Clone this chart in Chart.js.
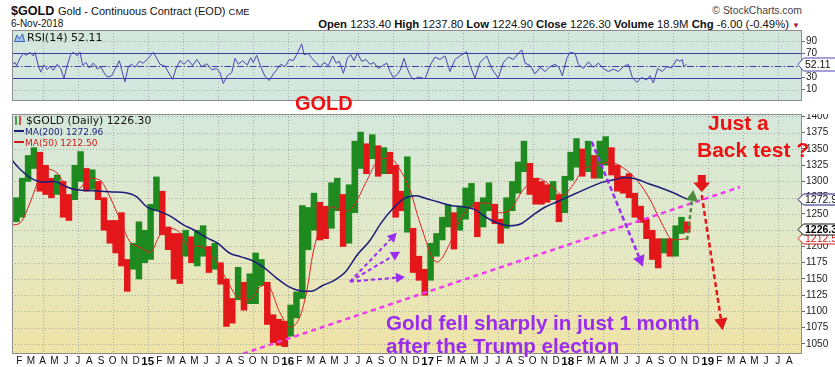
<!DOCTYPE html>
<html>
<head>
<meta charset="utf-8">
<title>$GOLD</title>
<script src="https://cdn.jsdelivr.net/npm/chart.js@4.4.1/dist/chart.umd.min.js"></script>
<style>
  html, body { margin: 0; padding: 0; background: #fff; }
  body { position: relative; width: 835px; height: 367px; overflow: hidden; font-family: 'Liberation Sans', Arial, sans-serif; color: #111; }
  canvas { position: absolute; left: 0; }
  #rsi { top: 30px; }
  #price { top: 114px; }
  .t { position: absolute; white-space: nowrap; line-height: 1; }
  .dv { font-family: 'DejaVu Sans', Verdana, sans-serif; }
  .note { font-weight: bold; }
</style>
</head>
<body>
<canvas id="rsi" width="835" height="84"></canvas>
<canvas id="price" width="835" height="253"></canvas>

<!-- header -->
<div class="t" style="left:11px;top:4.8px;font-size:12.6px;font-weight:bold">$GOLD</div>
<div class="t" style="left:58px;top:5.7px;font-size:11px">Gold - Continuous Contract (EOD) <span style="font-size:9.5px">CME</span></div>
<div class="t" style="left:11px;top:18.8px;font-size:10px">6-Nov-2018</div>
<div class="t" style="right:33px;top:6.3px;font-size:10.4px;color:#444">&copy; StockCharts.com</div>
<div class="t" style="right:35px;top:18.5px;font-size:11.3px"><b>Open</b> 1233.40 <b>High</b> 1237.80 <b>Low</b> 1224.90 <b>Close</b> 1226.30 <b>Volume</b> 18.9M <b>Chg</b> -6.00 (-0.49%) <span style="color:#a0203a;font-size:8px">&#9660;</span></div>

<!-- legends -->
<div class="t dv" style="left:14px;top:32.4px;font-size:11px"><svg width="11" height="9" style="vertical-align:-1px;margin-right:2px"><path d="M0.5 8.5 L3 2 L5.5 6 L8.5 0.8 L10.5 8.5 Z" fill="#9fc2ee" stroke="#3d63b8" stroke-width="1"/></svg>RSI(14) 52.11</div>
<div class="t dv" style="left:14px;top:115.9px;font-size:10.8px"><svg width="10" height="9" style="vertical-align:-1px;margin-right:2px"><path d="M2 0 V9 M1 2 H2 M2 6 H3" stroke="#1f8a1f" stroke-width="1.4"/><path d="M6 0 V9 M5 7 H6 M6 3 H7" stroke="#d81818" stroke-width="1.4"/></svg>$GOLD (Daily) 1226.30</div>
<div class="t dv" style="left:14px;top:128.4px;font-size:9px;color:#1c1c7a"><span style="display:inline-block;width:10px;height:2px;background:#1c1c7a;vertical-align:3px;margin-right:1px"></span>MA(200) 1272.96</div>
<div class="t dv" style="left:14px;top:139px;font-size:9px;color:#d01818"><span style="display:inline-block;width:10px;height:2px;background:#d01818;vertical-align:3px;margin-right:1px"></span>MA(50) 1212.50</div>

<!-- annotations -->
<div class="t note" style="left:295px;top:93px;font-size:20px;color:#ee1111">GOLD</div>
<div class="t note" style="left:708px;top:112px;font-size:21px;color:#ee1111">Just a</div>
<div class="t note" style="left:697px;top:139px;font-size:21px;color:#ee1111">Back test ?</div>
<div class="t note" style="left:386px;top:312.6px;font-size:20.6px;color:#9a2cf0">Gold fell sharply in just 1 month</div>
<div class="t note" style="left:386px;top:335.6px;font-size:20.6px;color:#9a2cf0">after the Trump election</div>

<script>
// x values are months since 1-Jan-2014
const X_MIN = 0.37;   // ~12-Jan-2014
const X_MAX = 68.08;  // end of Aug 2019
const firstYear = 2014;
const monthLetters = ['J', 'F', 'M', 'A', 'M', 'J', 'J', 'A', 'S', 'O', 'N', 'D'];
const xTickMonths = [1, 2, 3, 4, 5, 6, 7, 8, 9, 10, 11, 12, 13, 14, 15, 16, 17, 18, 19, 20, 21, 22, 23, 24,
  25, 26, 27, 28, 29, 30, 31, 32, 33, 34, 35, 36, 37, 38, 39, 40, 41, 42, 43, 44, 45, 46, 47, 48,
  49, 50, 51, 52, 53, 54, 55, 56, 57, 58, 59, 60, 61, 62, 63, 64, 65, 66, 67];

// half-month periods, first one = 16-31 Jan 2014
const firstPeriod = 0.5;
const priceHigh = [
  1275, 1305, 1340, 1352, 1345, 1325, 1305, 1310, 1300, 1280, 1325, 1346, 1320, 1318, 1300, 1275, 1240, 1240, 1252, 1180, 1205, 1238, 1225,
  1265, 1307, 1285, 1230, 1220, 1220, 1225, 1215, 1225, 1232, 1200, 1205, 1175, 1150, 1120, 1168, 1145, 1158, 1190, 1180, 1145, 1095, 1088, 1085,
  1110, 1130, 1263, 1260, 1282, 1268, 1262, 1298, 1305, 1280, 1295, 1362, 1376, 1358, 1372, 1355, 1352, 1345, 1325, 1285, 1338, 1228, 1185, 1165,
  1205, 1220, 1245, 1264, 1252, 1262, 1290, 1297, 1268, 1275, 1298, 1265, 1242, 1275, 1300, 1330, 1362, 1328, 1305, 1300, 1295, 1300, 1280, 1308,
  1345, 1366, 1350, 1362, 1340, 1362, 1369, 1352, 1325, 1308, 1312, 1282, 1262, 1242, 1225, 1212, 1212, 1212, 1232, 1245, 1238
];
const priceLow = [
  1238, 1245, 1300, 1320, 1285, 1280, 1275, 1280, 1245, 1240, 1272, 1300, 1285, 1288, 1272, 1225, 1205, 1190, 1170, 1131, 1165, 1150, 1175,
  1180, 1255, 1218, 1195, 1150, 1143, 1185, 1175, 1170, 1185, 1160, 1165, 1142, 1077, 1082, 1118, 1102, 1112, 1112, 1140, 1080, 1052, 1048, 1046,
  1062, 1090, 1120, 1195, 1225, 1210, 1212, 1228, 1255, 1200, 1205, 1252, 1320, 1312, 1335, 1308, 1312, 1312, 1245, 1255, 1222, 1160, 1148, 1125,
  1148, 1185, 1210, 1230, 1196, 1225, 1242, 1260, 1215, 1230, 1255, 1235, 1205, 1228, 1255, 1282, 1315, 1280, 1265, 1265, 1268, 1272, 1238, 1252,
  1302, 1322, 1308, 1315, 1305, 1305, 1325, 1310, 1285, 1282, 1275, 1245, 1237, 1212, 1180, 1167, 1190, 1185, 1185, 1220, 1222
];

const ma200Months = [0.37, 1, 2, 3, 4, 5, 6, 7, 8, 9, 10, 11, 12, 13, 14, 15, 16, 17, 18, 19, 20, 21, 22, 23, 24, 25, 26, 27, 28, 29,
  30, 31, 32, 33, 34, 35, 36, 37, 38, 39, 40, 41, 42, 43, 44, 45, 46, 47, 48, 49, 50, 51, 52, 53, 54, 55, 56, 57, 58.2];
const ma200 = [1333, 1320, 1305, 1299, 1300, 1292, 1287, 1286, 1285, 1284, 1283, 1277, 1260, 1254, 1246, 1234, 1225, 1214, 1205, 1190,
  1184, 1178, 1167, 1152, 1139, 1132, 1131, 1140, 1148, 1162, 1188, 1208, 1236, 1258, 1274, 1278, 1273, 1268, 1263, 1261,
  1257, 1245, 1236, 1232, 1235, 1248, 1260, 1268, 1276, 1284, 1292, 1299, 1303, 1306, 1303, 1296, 1290, 1283, 1273];

const ma50Months = [0.37, 1.05, 1.91, 2.77, 3.45, 4.23, 5.08, 5.94, 7.05, 7.91, 8.77, 9.63, 10.48, 11.34, 12.2, 13.06, 13.66, 14.77,
  15.37, 16.48, 17.6, 18.8, 19.65, 20.77, 21.63, 22.23, 23.34, 24.2, 25.05, 25.65, 26.17, 27.03, 27.88, 28.74, 29.6, 30.8,
  31.65, 32.77, 33.63, 34.48, 35.34, 36.8, 37.91, 38.77, 39.63, 41.08, 42.2, 43.05, 44.17, 45.37, 46.48, 47.6, 48.46, 49.31,
  50.51, 51.63, 52.74, 53.94, 55.06, 55.91, 57.03, 58.2];
const ma50 = [1233, 1236, 1267, 1307, 1319, 1313, 1292, 1287, 1305, 1302, 1276, 1241, 1207, 1199, 1191, 1218, 1228, 1221,
  1202, 1200, 1184, 1148, 1123, 1118, 1138, 1141, 1098, 1076, 1092, 1133, 1190, 1241, 1261, 1253, 1261, 1302,
  1330, 1336, 1318, 1287, 1236, 1176, 1205, 1241, 1261, 1267, 1252, 1256, 1287, 1305, 1295, 1279, 1295, 1318,
  1325, 1330, 1321, 1302, 1272, 1241, 1210, 1212];

const rsiMonths = [0.37, 0.63, 0.77, 1.05, 1.34, 1.63, 1.91, 2.19, 2.34, 2.62, 2.83, 3.11, 3.39, 3.63, 3.91, 4.25, 4.54, 4.83, 5.06, 5.40,
  5.62, 5.97, 6.20, 6.43, 6.71, 6.99, 7.34, 7.68, 7.97, 8.25, 8.54, 8.91, 9.20, 9.57, 9.86, 10.05, 10.34, 10.63, 10.91, 11.28,
  11.62, 12.05, 12.48, 12.77, 13.05, 13.48, 13.85, 14.14, 14.43, 14.77, 15.11, 15.48, 15.86, 16.20, 16.63, 17.06, 17.49, 17.91, 18.20, 18.48,
  18.82, 19.20, 19.48, 19.77, 20.14, 20.54, 20.83, 21.05, 21.34, 21.69, 22.05, 22.42, 22.77, 23.06, 23.40, 23.77, 24.14, 24.48, 24.82, 25.20,
  25.40, 25.77, 26.06, 26.43, 26.77, 27.11, 27.48, 27.86, 28.14, 28.42, 28.77, 29.11, 29.40, 29.68, 29.97, 30.34, 30.71, 31.05, 31.40, 31.77,
  32.14, 32.49, 32.77, 33.05, 33.39, 33.69, 33.97, 34.25, 34.54, 34.82, 35.19,
  35.77, 36.20, 36.62, 37.05, 37.48, 37.91, 38.34, 38.77, 39.34, 39.63, 40.05, 40.48, 41.06, 41.48, 42.05, 42.48, 42.91, 43.34, 43.77, 44.06,
  44.34, 44.77, 45.20, 45.63, 46.05, 46.48, 46.91, 47.25, 47.54, 47.92, 48.20, 48.63, 48.91, 49.34, 49.77, 50.20, 50.63, 51.05, 51.48, 51.91,
  52.34, 52.77, 53.20, 53.54, 53.92, 54.34, 54.77, 55.06, 55.34, 55.71, 56.11, 56.48, 56.91, 57.34, 57.62, 57.82, 57.94, 58.2];
const rsi = [52, 55, 50, 62, 70, 67, 72, 66, 72, 50, 39, 51, 43, 49, 42, 52, 45, 28, 48, 68,
  72, 66, 72, 50, 55, 46, 54, 44, 48, 38, 31, 33, 44, 58, 36, 23, 48, 52, 47, 57,
  54, 62, 72, 62, 52, 49, 36, 27, 45, 58, 52, 59, 50, 60, 48, 53, 43, 45, 38, 20,
  33, 38, 62, 52, 58, 51, 63, 55, 67, 48, 32, 25, 36, 43, 52, 48, 60, 58, 70, 86,
  68, 70, 62, 55, 47, 55, 50, 66, 54, 57, 37, 62, 68, 58, 71, 57, 60, 52, 55, 45,
  50, 54, 40, 30, 35, 44, 62, 45, 32, 27, 31,
  28, 50, 64, 60, 66, 40, 60, 66, 73, 50, 29, 55, 66, 45, 29, 55, 64, 60, 70, 76,
  54, 50, 36, 47, 40, 48, 52, 47, 33, 62, 72, 70, 52, 45, 56, 47, 54, 45, 40, 44,
  40, 48, 52, 30, 22, 30, 26, 33, 21, 45, 40, 48, 46, 60, 57, 60, 48, 52];

const priceTicks = [1050, 1075, 1100, 1125, 1150, 1175, 1200, 1225, 1250, 1275, 1300, 1325, 1350, 1375, 1400];
const rsiTicks = [10, 30, 70, 90];
const rsiLevels = [30, 70];
const lastClose = 1226.30, lastMa200 = 1272.96, lastMa50 = 1212.50, lastRsi = 52.11;

// hand-drawn annotations, in [month, price]
const trendLine = [[20.17, 1035], [62.77, 1291.5]];
const fanOrigin = [29.34, 1146];
const fanTips = [[33.34, 1221], [33.63, 1192], [34.05, 1153]];
const dropArrow = [[50.06, 1361], [54.45, 1169]];
const greenArrow = [[58.23, 1210], [58.77, 1287]];
const redArrow = [[59.49, 1279], [61.28, 1071]];
const blockArrow = [[59.49, 1310], [59.49, 1284]];

const GREEN = '#1f8a1f';
const RED = '#e3161a';
const PURPLE = '#9a2cf0';
const NAVY = '#1c1c7a';

function arrow(ctx, [x1, y1], [x2, y2], color, w, dash, head) {
  const dx = x2 - x1, dy = y2 - y1, len = Math.hypot(dx, dy);
  const ux = dx / len, uy = dy / len;
  const bx = x2 - ux * head, by = y2 - uy * head;
  ctx.save();
  ctx.strokeStyle = color;
  ctx.fillStyle = color;
  ctx.lineWidth = w;
  ctx.setLineDash(dash);
  ctx.beginPath();
  ctx.moveTo(x1, y1);
  ctx.lineTo(bx, by);
  ctx.stroke();
  ctx.setLineDash([]);
  ctx.beginPath();
  ctx.moveTo(x2, y2);
  ctx.lineTo(bx - uy * head * 0.55, by + ux * head * 0.55);
  ctx.lineTo(bx + uy * head * 0.55, by - ux * head * 0.55);
  ctx.closePath();
  ctx.fill();
  ctx.restore();
}

function drawBlockArrow(ctx, [cx, top], [, tip], color) {
  const mid = top + (tip - top) * 0.45;
  ctx.save();
  ctx.fillStyle = color;
  ctx.beginPath();
  ctx.moveTo(cx - 4, top);
  ctx.lineTo(cx + 4, top);
  ctx.lineTo(cx + 4, mid);
  ctx.lineTo(cx + 8.5, mid);
  ctx.lineTo(cx, tip);
  ctx.lineTo(cx - 8.5, mid);
  ctx.lineTo(cx - 4, mid);
  ctx.closePath();
  ctx.fill();
  ctx.restore();
}

// panel background, dotted grid and frame
const panelPlugin = {
  id: 'panel',
  beforeDatasetsDraw(chart, args, o) {
    const { ctx, chartArea: a, scales: { x, y } } = chart;
    ctx.save();
    let fill = o.fill;
    if (Array.isArray(fill)) {
      const g = ctx.createLinearGradient(0, a.top, 0, a.bottom);
      fill.forEach((c, i) => g.addColorStop(i / (fill.length - 1), c));
      fill = g;
    }
    ctx.fillStyle = fill;
    ctx.fillRect(a.left, a.top, a.width, a.height);
    ctx.strokeStyle = '#a6aca6';
    ctx.lineWidth = 1;
    ctx.setLineDash([1, 2]);
    ctx.beginPath();
    for (let m = 0; m <= X_MAX; m += 3) {
      const px = Math.round(x.getPixelForValue(m)) + 0.5;
      if (px > a.left && px < a.right) { ctx.moveTo(px, a.top); ctx.lineTo(px, a.bottom); }
    }
    o.hGrid.forEach(v => {
      const py = Math.round(y.getPixelForValue(v)) + 0.5;
      ctx.moveTo(a.left, py);
      ctx.lineTo(a.right, py);
    });
    ctx.stroke();
    ctx.setLineDash([]);
    if (o.levels) {
      ctx.strokeStyle = '#3c3ca8';
      ctx.beginPath();
      o.levels.forEach(v => {
        const py = Math.round(y.getPixelForValue(v)) + 0.5;
        ctx.moveTo(a.left, py);
        ctx.lineTo(a.right, py);
      });
      ctx.stroke();
      const py = Math.round(y.getPixelForValue(o.mid)) + 0.5;
      ctx.setLineDash([7, 2, 1.5, 2]);
      ctx.beginPath();
      ctx.moveTo(a.left, py);
      ctx.lineTo(a.right, py);
      ctx.stroke();
    }
    ctx.restore();
  },
  afterDraw(chart) {
    const { ctx, chartArea: a } = chart;
    ctx.save();
    ctx.strokeStyle = '#8c8c8c';
    ctx.lineWidth = 1;
    ctx.strokeRect(a.left + 0.5, a.top + 0.5, a.width - 1, a.height - 1);
    ctx.restore();
  }
};

// value boxes on the right axis
const boxPlugin = {
  id: 'boxes',
  afterDraw(chart, args, o) {
    const { ctx, scales: { y } } = chart;
    ctx.save();
    o.items.forEach(b => {
      const py = Math.round(y.getPixelForValue(b.v)) + 0.5;
      const h = b.h / 2;
      ctx.beginPath();
      ctx.moveTo(798, py);
      ctx.lineTo(803.5, py - h);
      ctx.lineTo(840, py - h);
      ctx.lineTo(840, py + h);
      ctx.lineTo(803.5, py + h);
      ctx.closePath();
      ctx.fillStyle = '#fff';
      ctx.fill();
      ctx.strokeStyle = b.stroke;
      ctx.lineWidth = 1;
      ctx.stroke();
      ctx.fillStyle = b.color;
      ctx.font = (b.bold ? 'bold ' : '') + '10.5px "Liberation Sans", Arial';
      ctx.textBaseline = 'middle';
      ctx.fillText(b.text, 805, py + 0.5);
    });
    ctx.restore();
  }
};

const notesPlugin = {
  id: 'notes',
  afterDatasetsDraw(chart) {
    const { ctx, scales: { x, y } } = chart;
    const P = ([m, v]) => [x.getPixelForValue(m), y.getPixelForValue(v)];
    fanTips.forEach(t => arrow(ctx, P(fanOrigin), P(t), PURPLE, 2, [4, 3], 9));
    arrow(ctx, P(dropArrow[0]), P(dropArrow[1]), PURPLE, 2.5, [5, 3], 11);
    arrow(ctx, P(greenArrow[0]), P(greenArrow[1]), '#4b8b3b', 2.5, [4, 3], 11);
    arrow(ctx, P(redArrow[0]), P(redArrow[1]), RED, 2.5, [5, 3], 12);
    drawBlockArrow(ctx, P(blockArrow[0]), P(blockArrow[1]), RED);
  }
};

const xScale = (show) => ({
  type: 'linear',
  min: X_MIN,
  max: X_MAX,
  offset: false,
  display: show,
  afterBuildTicks: s => { s.ticks = xTickMonths.map(v => ({ value: v })); },
  afterFit: s => { s.height = 13; s.paddingLeft = 0; s.paddingRight = 0; },
  grid: { display: false, drawTicks: false, offset: false },
  border: { display: false },
  ticks: {
    autoSkip: false,
    maxRotation: 0,
    padding: 1,
    color: '#111',
    font: c => {
      const yr = c.tick && c.tick.value % 12 === 0;
      return { family: 'Liberation Sans', size: yr ? 11.5 : 10, weight: yr ? 'bold' : 'normal' };
    },
    callback: v => v % 12 === 0 ? String((firstYear + v / 12) % 100) : monthLetters[v % 12]
  }
});

const yScale = (min, max, ticks) => ({
  type: 'linear',
  position: 'right',
  min, max,
  beginAtZero: false,
  afterBuildTicks: s => { s.ticks = ticks.map(v => ({ value: v })); },
  afterFit: s => { s.width = 33; s.paddingTop = 0; s.paddingBottom = 0; },
  grid: { drawOnChartArea: false, drawTicks: true, tickLength: 3, tickColor: '#666' },
  border: { display: false },
  ticks: { padding: 1, color: '#222', font: { family: 'Liberation Sans', size: 10 }, callback: v => v }
});

const common = {
  responsive: false,
  animation: false,
  events: [],
  layout: { padding: { left: 12, right: 0, top: 0, bottom: 0 } },
};

// RSI panel
new Chart(document.getElementById('rsi'), {
  type: 'line',
  data: {
    datasets: [{
      data: rsiMonths.map((m, i) => ({ x: m, y: rsi[i] })),
      borderColor: '#4646b4',
      borderWidth: 1,
      pointRadius: 0,
      tension: 0
    }]
  },
  options: {
    ...common,
    scales: { x: xScale(false), y: yScale(-9, 109, rsiTicks) },
    plugins: {
      legend: { display: false },
      tooltip: { enabled: false },
      panel: { fill: '#d3e7de', hGrid: [10, 90], levels: rsiLevels, mid: 50 },
      boxes: { items: [{ v: lastRsi, text: lastRsi.toFixed(2), stroke: '#4646b4', color: '#111', h: 13 }] }
    }
  },
  plugins: [panelPlugin, boxPlugin]
});

// price panel
const upDown = priceHigh.map((h, i) =>
  i === 0 || h + priceLow[i] >= priceHigh[i - 1] + priceLow[i - 1] ? GREEN : RED);

new Chart(document.getElementById('price'), {
  type: 'bar',
  data: {
    datasets: [
      {
        type: 'bar',
        data: priceHigh.map((h, i) => ({ x: firstPeriod + i * 0.5 + 0.25, y: [priceLow[i], h] })),
        backgroundColor: upDown,
        borderWidth: 0,
        barPercentage: 1,
        categoryPercentage: 1,
        order: 3
      },
      {
        type: 'line',
        data: ma50Months.map((m, i) => ({ x: m, y: ma50[i] })),
        borderColor: '#e02020',
        borderWidth: 1,
        pointRadius: 0,
        cubicInterpolationMode: 'monotone',
        order: 2
      },
      {
        type: 'line',
        data: ma200Months.map((m, i) => ({ x: m, y: ma200[i] })),
        borderColor: NAVY,
        borderWidth: 1.5,
        pointRadius: 0,
        cubicInterpolationMode: 'monotone',
        order: 1
      },
      {
        type: 'line',
        data: trendLine.map(([m, v]) => ({ x: m, y: v })),
        borderColor: '#f03cf0',
        borderWidth: 2.5,
        borderDash: [5, 4],
        pointRadius: 0,
        order: 0
      }
    ]
  },
  options: {
    ...common,
    scales: { x: xScale(true), y: yScale(1034.6, 1403.8, priceTicks) },
    plugins: {
      legend: { display: false },
      tooltip: { enabled: false },
      panel: { fill: ['#d4e8dc', '#e2e9c8', '#f0e3a6'], hGrid: priceTicks },
      boxes: {
        items: [
          { v: lastMa50, text: lastMa50.toFixed(1), stroke: '#d02020', color: '#d02020', h: 11 },
          { v: lastMa200, text: lastMa200.toFixed(2).slice(0, 6), stroke: NAVY, color: '#111', h: 11 },
          { v: lastClose, text: lastClose.toFixed(1), stroke: '#111', color: '#000', h: 11, bold: true }
        ]
      }
    }
  },
  plugins: [panelPlugin, notesPlugin, boxPlugin]
});
</script>
</body>
</html>
